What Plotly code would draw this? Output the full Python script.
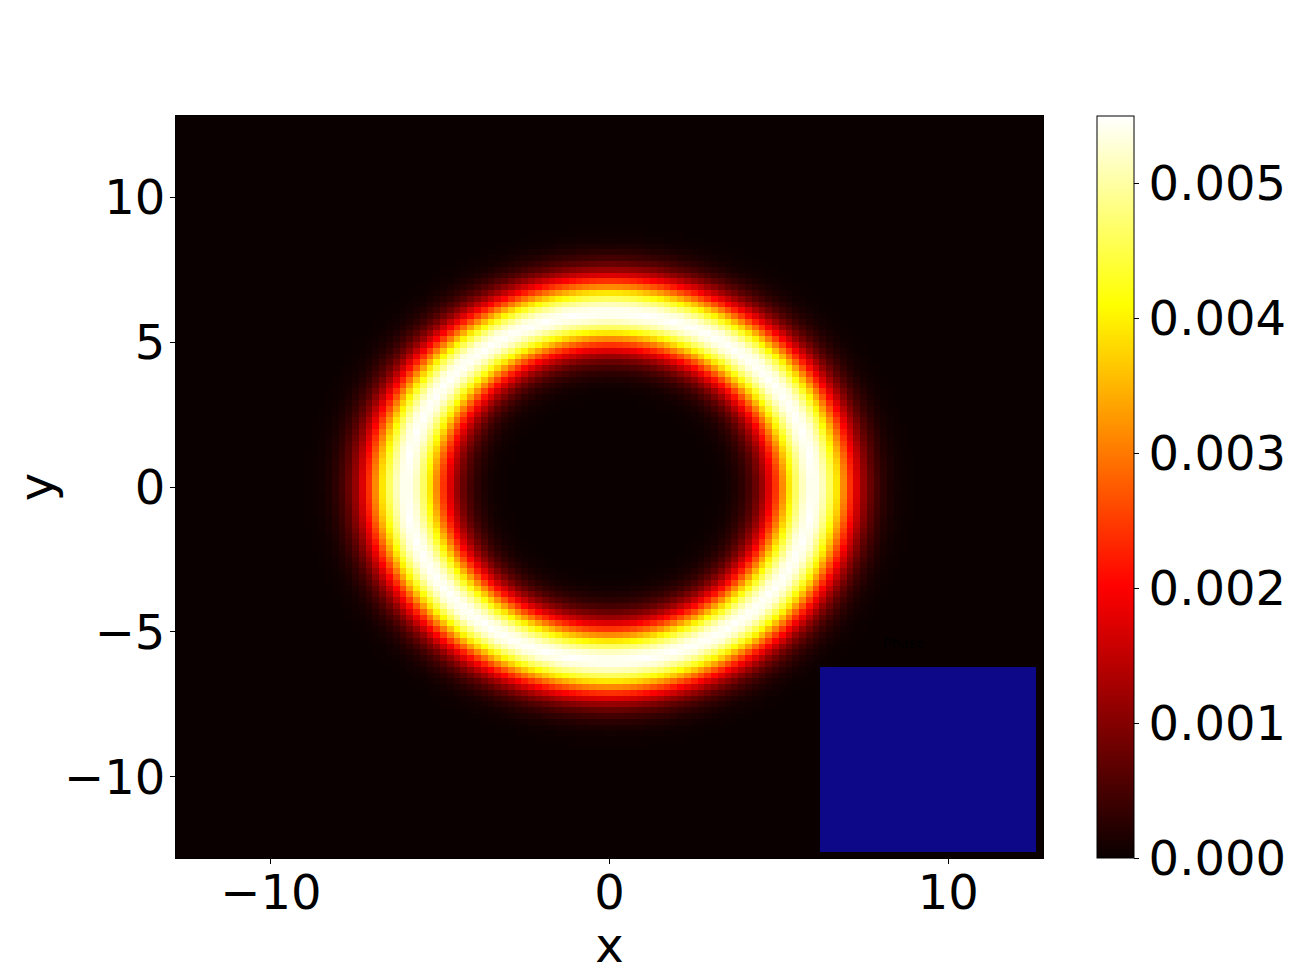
import numpy as np
import plotly.graph_objects as go

# radial density profile of the ring (r, density)
ring_r = [0.0, 2.9, 3.0, 3.25, 3.5, 3.75, 4.0, 4.25, 4.5, 4.75, 5.0, 5.25, 5.5, 5.75,
          6.0, 6.25, 6.5, 6.75, 7.0, 7.25, 7.5, 7.75, 8.0, 8.25, 8.5, 8.75, 9.0, 9.1, 20.0]
ring_density = [0.0, 0.0, 0.00001, 0.00003, 0.00007, 0.00017, 0.00035, 0.00066, 0.00116,
                0.00187, 0.00276, 0.00373, 0.00463, 0.00527, 0.00550, 0.00527, 0.00463,
                0.00373, 0.00276, 0.00187, 0.00116, 0.00066, 0.00035, 0.00017, 0.00007,
                0.00003, 0.00001, 0.0, 0.0]

# image grid (cell centres), 128 x 128 over [-12.8, 12.8]
grid_x = np.linspace(-12.7, 12.7, 128)
grid_y = np.linspace(-12.7, 12.7, 128)

x_ticks = [-10, 0, 10]
y_ticks = [-10, -5, 0, 5, 10]
cbar_ticks = [0.000, 0.001, 0.002, 0.003, 0.004, 0.005]
density_max = 0.0055

# inset "Phase" panel: uniform phase field
phase_vals = [[0.0, 0.0], [0.0, 0.0]]

X, Y = np.meshgrid(grid_x, grid_y)
R = np.sqrt(X ** 2 + Y ** 2)
Z = np.interp(R, ring_r, ring_density)

hot = [[0.0, '#0a0000'], [0.365, '#ff0000'], [0.746, '#ffff00'], [1.0, '#ffffff']]
plasma = [[0.0, '#0d0887'], [1.0, '#f0f921']]

W, H = 1296, 965
OFF = 8  # page body margin


def px(v):
    return (v - OFF) / W


def py(v):
    return 1 - (v - OFF) / H


font = dict(family='DejaVu Sans', size=48, color='black')

fig = go.Figure()

fig.add_trace(go.Heatmap(
    x=grid_x, y=grid_y, z=Z,
    colorscale=hot, zmin=0, zmax=density_max,
    colorbar=dict(
        x=px(1097), xanchor='left', y=py(858), yanchor='bottom',
        len=742 / H, lenmode='fraction', thickness=37, thicknessmode='pixels',
        outlinewidth=1, outlinecolor='black',
        tickvals=cbar_ticks, tickformat='.3f', ticks='outside', ticklen=5,
        tickcolor='black', tickfont=font, xpad=0, ypad=0,
    ),
    hoverinfo='skip',
))

fig.add_trace(go.Heatmap(
    z=phase_vals, x=[0, 1], y=[0, 1],
    colorscale=plasma, zmin=0, zmax=1, showscale=False,
    xaxis='x2', yaxis='y2', hoverinfo='skip',
))

fig.add_annotation(
    text='Phase', x=px(927), y=py(653), xref='paper', yref='paper',
    showarrow=False, font=dict(family='DejaVu Sans', size=14, color='black'),
)

fig.update_layout(
    width=W, height=H,
    margin=dict(l=0, r=0, t=0, b=0),
    paper_bgcolor='white', plot_bgcolor='white',
    font=font,
    xaxis=dict(
        domain=[px(176), px(1043)], range=[-12.8, 12.8],
        tickvals=x_ticks, ticks='outside', ticklen=5, tickcolor='black',
        ticklabelstandoff=-13,
        showgrid=False, zeroline=False, showline=True, linecolor='black',
        mirror=True, title=dict(text='x', font=font, standoff=0),
        anchor='y',
    ),
    yaxis=dict(
        domain=[py(858), py(116)], range=[-12.8, 12.8],
        tickvals=y_ticks, ticks='outside', ticklen=5, tickcolor='black',
        ticklabelstandoff=-5,
        showgrid=False, zeroline=False, showline=True, linecolor='black',
        mirror=True, title=dict(text='y', font=font, standoff=0),
        anchor='x',
    ),
    xaxis2=dict(
        domain=[px(820), px(1036)], range=[-0.5, 1.5], visible=False,
        anchor='y2',
    ),
    yaxis2=dict(
        domain=[py(852), py(667)], range=[-0.5, 1.5], visible=False,
        anchor='x2',
    ),
)

fig.write_html("out.html")
